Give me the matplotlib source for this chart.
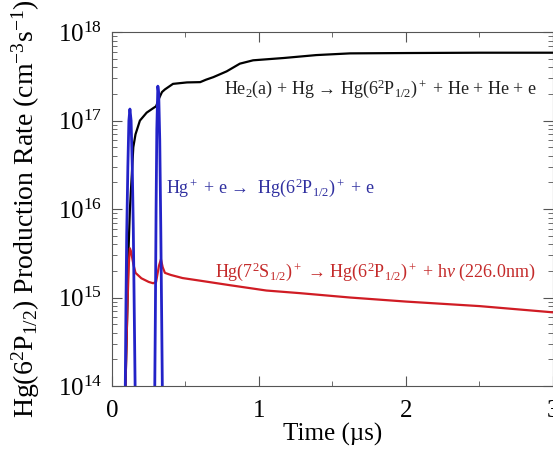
import numpy as np
import matplotlib.pyplot as plt
from matplotlib.ticker import LogLocator, MultipleLocator, NullFormatter

plt.rcParams['font.family'] = ['Liberation Serif', 'DejaVu Serif']
plt.rcParams['mathtext.fontset'] = 'custom'
plt.rcParams['mathtext.rm'] = 'Liberation Serif'
plt.rcParams['mathtext.it'] = 'Liberation Serif:italic'

# He2(a) + Hg -> Hg+ ...  (black)
t_black = [0.08, 0.092, 0.105, 0.111, 0.122, 0.145, 0.16, 0.19, 0.236, 0.28, 0.30, 0.32,
           0.34, 0.36, 0.415, 0.51, 0.6, 0.64, 0.69, 0.78, 0.87, 0.96, 1.17, 1.39, 1.62,
           2.0, 2.5, 3.0]
r_black = [1e13, 1e14, 8e14, 2.9e15, 1e16, 5e16, 7e16, 1.0e17, 1.23e17, 1.38e17, 1.45e17, 1.78e17,
           2.1e17, 2.25e17, 2.6e17, 2.7e17, 2.72e17, 2.9e17, 3.1e17, 3.6e17, 4.4e17, 4.8e17,
           5.1e17, 5.5e17, 5.75e17, 5.8e17, 5.85e17, 5.85e17]

# Hg+ + e -> Hg(6P1/2)+ + e  (blue)
t_blue = [0.0, 0.085, 0.090, 0.095, 0.100, 0.108, 0.115, 0.122, 0.130, 0.138, 0.145,
          0.152, 0.158, 0.165, 0.28, 0.290, 0.295, 0.300, 0.305, 0.312, 0.318, 0.325,
          0.332, 0.338, 0.343, 0.35, 3.0]
r_blue = [1e12, 1e12, 8e13, 8e14, 5e15, 3e16, 1e17, 1.35e17, 1e17, 3e16, 6e15,
          6e14, 8e13, 1e12, 1e12, 6e13, 6e14, 1e16, 8e16, 2.45e17, 2e17, 6e16,
          6e15, 6e14, 8e13, 1e12, 1e12]

# Hg(7S1/2)+ -> Hg(6P1/2)+ + hv  (red)
t_red = [0.087, 0.092, 0.105, 0.115, 0.122, 0.13, 0.145, 0.16, 0.2, 0.25, 0.28, 0.30,
         0.32, 0.333, 0.345, 0.36, 0.40, 0.48, 0.6, 0.8, 1.05, 1.28, 1.62, 2.0, 2.5, 3.0]
r_red = [1e13, 1e14, 8e14, 2.5e15, 3.6e15, 3.3e15, 2.4e15, 1.9e15, 1.65e15, 1.5e15, 1.45e15, 1.5e15,
         2.3e15, 2.7e15, 2.2e15, 1.9e15, 1.8e15, 1.66e15, 1.55e15, 1.38e15, 1.2e15, 1.12e15,
         1.0e15, 0.9e15, 0.8e15, 0.68e15]

fig = plt.figure(figsize=(5.53, 4.62), dpi=100)
ax = fig.add_axes([0.2025, 0.1645, 0.7975, 0.766])

ax.plot(t_black, r_black, color='black', lw=1.6)
ax.plot(t_red, r_red, color='#d01c24', lw=1.6)
ax.plot(t_blue, r_blue, color='#2323c8', lw=2.0)

ax.set_yscale('log')
ax.set_xlim(0, 3)
ax.set_ylim(1e14, 1e18)
ax.xaxis.set_major_locator(MultipleLocator(1))
ax.xaxis.set_minor_locator(MultipleLocator(0.5))
ax.yaxis.set_major_locator(LogLocator(base=10, numticks=10))
ax.yaxis.set_minor_locator(LogLocator(base=10, subs=np.arange(2, 10), numticks=20))
ax.yaxis.set_minor_formatter(NullFormatter())

ax.tick_params(which='both', direction='in', top=True, right=True, colors='#555555',
               labelcolor='black', labelsize=18)
ax.tick_params(which='major', length=7)
ax.tick_params(which='minor', length=3.5)
ax.tick_params(axis='x', pad=10)
ax.tick_params(axis='y', pad=7)
for s in ax.spines.values():
    s.set_color('#555555')

ax.set_xlabel('Time (µs)', fontsize=18, labelpad=1)
ax.set_ylabel('Hg(6$^2$P$_{1/2}$) Production Rate (cm$^{-3}$s$^{-1}$)', fontsize=20)
ax.yaxis.set_label_coords(-0.158, 0.5)

ax.text(0.255, 0.84, 'He$_2$(a) + Hg → Hg(6$^2$P$_{1/2}$)$^+$ + He + He + e',
        transform=ax.transAxes, fontsize=13, color='#222222', va='center')
ax.text(0.122, 0.56, 'Hg$^+$ + e →  Hg(6$^2$P$_{1/2}$)$^+$ + e',
        transform=ax.transAxes, fontsize=13, color='#3030a0', va='center')
ax.text(0.233, 0.322, 'Hg(7$^2$S$_{1/2}$)$^+$ → Hg(6$^2$P$_{1/2}$)$^+$ + h$\\it{v}$ (226.0nm)',
        transform=ax.transAxes, fontsize=13, color='#c42a2a', va='center')

fig.savefig('out.png', dpi=100)
